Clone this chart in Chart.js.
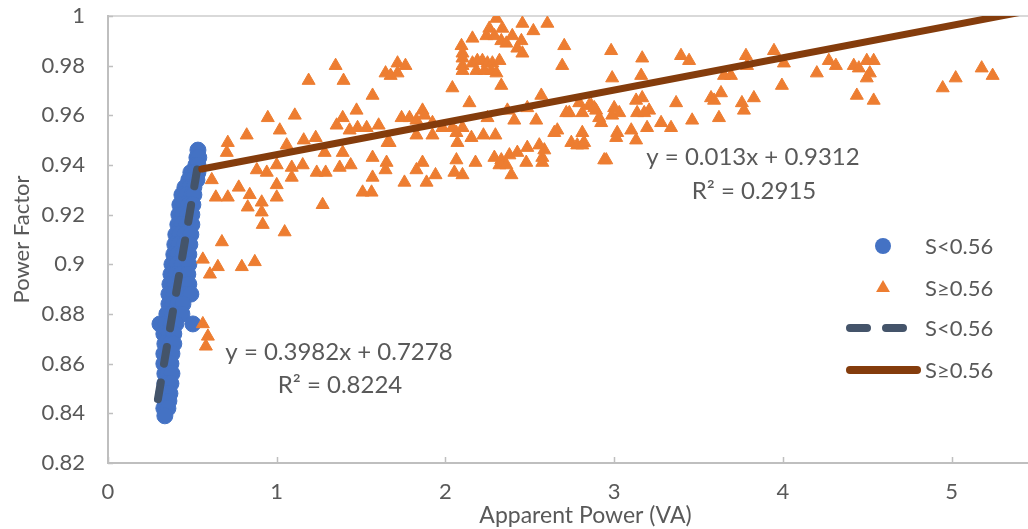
<!DOCTYPE html>
<html><head><meta charset="utf-8">
<script src="https://cdn.jsdelivr.net/npm/chart.js@4.4.1/dist/chart.umd.min.js"></script>
<style>
html,body{margin:0;padding:0;background:#fff;overflow:hidden;}
#wrap{width:1028px;height:529px;overflow:hidden;position:relative;}
canvas{display:block;}
</style></head><body>
<div id="wrap"><canvas id="c" width="1072" height="529"></canvas></div>
<script>
// ---------- data ----------
const xTicks = [0, 1, 2, 3, 4, 5];
const yTicks = [0.82, 0.84, 0.86, 0.88, 0.9, 0.92, 0.94, 0.96, 0.98, 1];
const seriesNames = ['S<0.56', 'S≥0.56', 'S<0.56', 'S≥0.56'];
const xTitle = 'Apparent Power (VA)';
const yTitle = 'Power Factor';

const bluePoints = [
 [0.533,0.946],
 [0.527,0.943],[0.538,0.943],
 [0.521,0.940],[0.533,0.940],
 [0.491,0.937],[0.515,0.937],[0.533,0.937],
 [0.479,0.934],[0.503,0.934],[0.527,0.934],
 [0.456,0.931],[0.485,0.931],[0.509,0.931],
 [0.438,0.928],[0.467,0.928],[0.497,0.928],[0.509,0.928],
 [0.426,0.924],[0.450,0.924],[0.479,0.924],[0.503,0.924],
 [0.420,0.920],[0.444,0.920],[0.473,0.920],[0.497,0.920],
 [0.414,0.916],[0.438,0.916],[0.467,0.916],[0.497,0.916],
 [0.402,0.912],[0.426,0.912],[0.456,0.912],[0.491,0.912],
 [0.396,0.908],[0.420,0.908],[0.450,0.908],[0.485,0.908],
 [0.390,0.904],[0.414,0.904],[0.444,0.904],[0.479,0.904],
 [0.379,0.900],[0.408,0.900],[0.438,0.900],[0.479,0.900],
 [0.373,0.896],[0.402,0.896],[0.432,0.896],[0.473,0.896],
 [0.367,0.892],[0.396,0.892],[0.426,0.892],[0.479,0.892],
 [0.361,0.888],[0.390,0.888],[0.420,0.888],[0.462,0.888],[0.491,0.888],
 [0.361,0.884],[0.384,0.884],[0.414,0.884],[0.444,0.884],
 [0.349,0.880],[0.379,0.880],[0.408,0.880],[0.438,0.880],
 [0.308,0.876],[0.343,0.876],[0.373,0.876],[0.402,0.876],[0.503,0.876],
 [0.331,0.872],[0.361,0.872],[0.390,0.872],
 [0.337,0.868],[0.367,0.868],[0.390,0.868],
 [0.331,0.864],[0.355,0.864],[0.379,0.864],
 [0.331,0.860],[0.349,0.860],[0.373,0.860],
 [0.337,0.856],[0.355,0.856],[0.379,0.856],
 [0.337,0.852],[0.355,0.852],[0.373,0.852],
 [0.331,0.848],[0.349,0.848],[0.367,0.848],
 [0.337,0.845],[0.361,0.845],
 [0.331,0.842],[0.355,0.842],
 [0.337,0.839]
];

const orangePoints = [
 [0.562,0.876],[0.592,0.871],[0.580,0.867],[0.562,0.902],[0.604,0.896],[0.651,0.899],[0.793,0.899],[0.870,0.901],
 [0.675,0.909],[0.615,0.934],[0.639,0.927],[0.710,0.927],[0.775,0.931],[0.840,0.928],[0.828,0.923],[0.911,0.925],
 [0.911,0.921],[0.917,0.916],[0.710,0.949],[0.704,0.945],[0.822,0.952],[0.882,0.938],
 [0.947,0.959],[1.107,0.960],[1.018,0.954],[1.059,0.948],[1.160,0.950],[1.231,0.951],[1.189,0.974],[1.349,0.980],
 [1.396,0.974],[1.355,0.956],[1.391,0.959],[1.473,0.962],[1.568,0.968],[1.432,0.954],[1.479,0.955],[1.533,0.955],
 [1.604,0.956],[1.657,0.949],[1.669,0.949],[1.391,0.945],[1.284,0.945],[1.237,0.937],[1.290,0.937],[1.373,0.939],[1.438,0.940],
 [1.568,0.943],[1.651,0.941],[1.645,0.938],[1.568,0.935],[1.509,0.929],[1.562,0.929],[0.941,0.937],[1.000,0.940],
 [1.000,0.932],[1.000,0.927],[1.089,0.939],[1.089,0.935],[1.154,0.940],[1.272,0.924],[1.047,0.913],[1.645,0.977],
 [1.675,0.976],[1.716,0.981],[1.763,0.980],[1.716,0.977],
 [1.740,0.959],[1.787,0.959],[1.828,0.958],[1.864,0.962],[1.876,0.960],[1.923,0.957],[1.828,0.952],[1.923,0.952],
 [1.982,0.955],[2.041,0.955],[2.065,0.953],[2.071,0.949],[2.101,0.955],[2.142,0.965],[2.041,0.971],[2.154,0.951],
 [1.864,0.941],[1.828,0.938],[1.941,0.936],[1.757,0.933],[1.888,0.933],[2.065,0.942],[2.053,0.937],[2.101,0.936],
 [2.095,0.988],[2.101,0.985],[2.101,0.983],[2.101,0.980],[2.101,0.978],[2.160,0.991],[2.160,0.981],[2.189,0.982],
 [2.225,0.952],[2.296,0.952],[2.249,0.959],[2.178,0.941],[2.290,0.943],[2.331,0.942],[2.379,0.944],[2.426,0.945],
 [2.485,0.947],[2.320,0.940],[2.361,0.940],[2.391,0.936],[2.479,0.941],[2.574,0.943],[2.574,0.941],[2.586,0.946],
 [2.556,0.948],[2.645,0.953],[2.663,0.954],[2.746,0.949],[2.781,0.948],[2.811,0.953],[2.811,0.948],[2.538,0.958],
 [2.568,0.968],[2.716,0.961],[2.734,0.961],[2.811,0.961],[2.864,0.964],[2.893,0.962],[2.923,0.957],[2.408,0.958],
 [2.367,0.962],[2.485,0.963],[2.941,0.942],
 [2.219,0.982],[2.249,0.981],[2.278,0.981],[2.320,0.982],[2.183,0.978],[2.231,0.978],[2.272,0.978],[2.302,0.977],
 [2.302,0.999],[2.260,0.995],[2.337,0.995],[2.243,0.992],[2.290,0.992],[2.331,0.990],[2.361,0.989],[2.396,0.992],
 [2.456,0.997],[2.521,0.994],[2.604,0.997],[2.450,0.990],[2.426,0.987],[2.456,0.985],[2.331,0.972],[2.704,0.988],
 [2.692,0.980],
 [2.982,0.986],[3.166,0.983],[3.396,0.984],[3.444,0.982],[2.988,0.975],[3.160,0.976],[2.793,0.965],[2.852,0.964],
 [2.882,0.963],[2.822,0.949],[2.911,0.959],[3.000,0.963],[3.030,0.961],[2.988,0.960],[3.130,0.966],[3.166,0.967],
 [3.136,0.961],[3.207,0.962],[3.178,0.961],[3.018,0.953],[3.012,0.951],[3.101,0.954],[3.130,0.950],[3.195,0.955],
 [3.278,0.957],[3.337,0.955],[3.367,0.965],[3.462,0.958],[2.953,0.942],[3.574,0.967],[3.592,0.966],[3.633,0.969],
 [3.621,0.959],[3.651,0.976],[3.692,0.976],[3.757,0.965],[3.769,0.962],[3.828,0.967],[3.781,0.984],[3.787,0.980],
 [3.947,0.986],[4.006,0.981],[3.994,0.972],
 [4.201,0.977],[4.272,0.982],[4.314,0.980],[4.420,0.980],[4.450,0.979],[4.497,0.982],[4.538,0.982],[4.515,0.977],
 [4.497,0.975],[4.438,0.968],[4.538,0.966],[4.947,0.971],[5.024,0.975],[5.178,0.979],[5.243,0.976]
];

// trendlines (from the printed equations): endpoints
const blueTrendLine   = [[0.296,0.8457],[0.533,0.9400]];
const orangeTrendLine = [[0.556,0.9384],[5.600,1.0040]];
const trendEquations  = ['y = 0.3982x + 0.7278', 'y = 0.013x + 0.9312'];
const trendR2         = ['R² = 0.8224', 'R² = 0.2915'];

// ---------- chart ----------
const TXT = '#595959';
Chart.defaults.font.family = 'Lato, "Open Sans", sans-serif';
Chart.defaults.color = TXT;

const toXY = a => a.map(p => ({x: p[0], y: p[1]}));

const deco = {
  id: 'deco',
  afterDraw(chart) {
    const ctx = chart.ctx, a = chart.chartArea, xs = chart.scales.x, ys = chart.scales.y;
    ctx.save();
    ctx.strokeStyle = '#BFBFBF'; ctx.lineWidth = 1.5;
    yTicks.forEach(v => {
      const y = Math.round(ys.getPixelForValue(v)) + 0.5;
      ctx.beginPath(); ctx.moveTo(a.left, y); ctx.lineTo(a.left + 5, y); ctx.stroke();
    });
    xTicks.forEach(v => {
      const x = Math.round(xs.getPixelForValue(v)) + 0.5;
      ctx.beginPath(); ctx.moveTo(x, a.bottom); ctx.lineTo(x, a.bottom - 6); ctx.stroke();
    });
    ctx.fillStyle = TXT; ctx.textAlign = 'center'; ctx.textBaseline = 'middle';
    ctx.font = '24px Lato, "Open Sans", sans-serif';
    ctx.fillText(trendEquations[0], 339, 352);
    ctx.fillText(trendR2[0], 340, 385);
    ctx.fillText(trendEquations[1], 753, 157);
    ctx.fillText(trendR2[1], 754, 191);
    const ds = chart.data.datasets;
    const lx = 883, rows = [246, 288, 328, 370], tx = 925;
    ctx.fillStyle = ds[0].backgroundColor;
    ctx.beginPath(); ctx.arc(lx, rows[0], 8, 0, Math.PI * 2); ctx.fill();
    ctx.fillStyle = ds[1].backgroundColor;
    const r = 8;
    ctx.beginPath();
    ctx.moveTo(lx, rows[1] - r);
    ctx.lineTo(lx + r * Math.sin(2 * Math.PI / 3), rows[1] - r * Math.cos(2 * Math.PI / 3));
    ctx.lineTo(lx + r * Math.sin(4 * Math.PI / 3), rows[1] - r * Math.cos(4 * Math.PI / 3));
    ctx.closePath(); ctx.fill();
    ctx.lineCap = 'round';
    ctx.strokeStyle = ds[2].borderColor; ctx.lineWidth = 8; ctx.setLineDash(ds[2].borderDash);
    ctx.beginPath(); ctx.moveTo(850, rows[2]); ctx.lineTo(906, rows[2]); ctx.stroke();
    ctx.setLineDash([]);
    ctx.strokeStyle = ds[3].borderColor;
    ctx.beginPath(); ctx.moveTo(850, rows[3]); ctx.lineTo(917, rows[3]); ctx.stroke();
    ctx.fillStyle = TXT; ctx.textAlign = 'left';
    ctx.font = '22px Lato, "Open Sans", sans-serif';
    rows.forEach((y, i) => ctx.fillText(seriesNames[i], tx, y + 1));
    ctx.restore();
  }
};

new Chart(document.getElementById('c'), {
  type: 'scatter',
  data: {
    datasets: [
      { label: seriesNames[0], data: toXY(bluePoints), backgroundColor: '#4472C4', borderColor: '#4472C4',
        borderWidth: 1, pointRadius: 8, pointStyle: 'circle', order: 3 },
      { label: seriesNames[1], data: toXY(orangePoints), backgroundColor: '#ED7D31', borderColor: '#ED7D31',
        borderWidth: 1, pointRadius: 7.5, pointStyle: 'triangle', order: 2 },
      { type: 'line', label: seriesNames[2], data: toXY(blueTrendLine), showLine: true, pointRadius: 0,
        borderColor: '#44546A', backgroundColor: '#44546A', borderWidth: 8, borderDash: [17, 19],
        borderCapStyle: 'round', fill: false, order: 1 },
      { type: 'line', label: seriesNames[3], data: toXY(orangeTrendLine), showLine: true, pointRadius: 0,
        borderColor: '#843C0C', backgroundColor: '#843C0C', borderWidth: 7,
        borderCapStyle: 'round', fill: false, order: 0, clip: 0 }
    ]
  },
  options: {
    responsive: false,
    animation: false,
    events: [],
    layout: { padding: { top: 16, right: 0, bottom: 0, left: 0 } },
    plugins: { legend: { display: false }, tooltip: { enabled: false } },
    scales: {
      x: {
        type: 'linear', position: 'bottom', min: 0, max: 5.66,
        afterBuildTicks: s => { s.ticks = xTicks.map(v => ({ value: v })); },
        afterFit: s => { s.height = 66; s.paddingLeft = 0; s.paddingRight = 0; },
        ticks: { color: TXT, font: { size: 22 }, padding: 16, maxRotation: 0, autoSkip: false,
                 callback: v => String(v) },
        grid: { display: false, drawTicks: false },
        border: { display: true, color: '#BFBFBF', width: 2 },
        title: { display: true, text: xTitle, color: TXT, font: { size: 23 }, padding: { top: 0, bottom: 0 } }
      },
      y: {
        type: 'linear', min: 0.82, max: 1,
        afterBuildTicks: s => { s.ticks = yTicks.map(v => ({ value: v })); },
        afterFit: s => { s.width = 108; s.paddingTop = 0; s.paddingBottom = 0; },
        ticks: { color: TXT, font: { size: 22 }, padding: 23, autoSkip: false, callback: v => String(v) },
        grid: { display: true, drawTicks: false, lineWidth: 2,
                color: c => (c.tick && c.tick.value === 1) ? '#D9D9D9' : 'rgba(0,0,0,0)' },
        border: { display: true, color: '#BFBFBF', width: 2 },
        title: { display: true, text: yTitle, color: TXT, font: { size: 22 }, padding: { top: 9, bottom: 0 } }
      }
    }
  },
  plugins: [deco]
});
</script>
</body></html>
